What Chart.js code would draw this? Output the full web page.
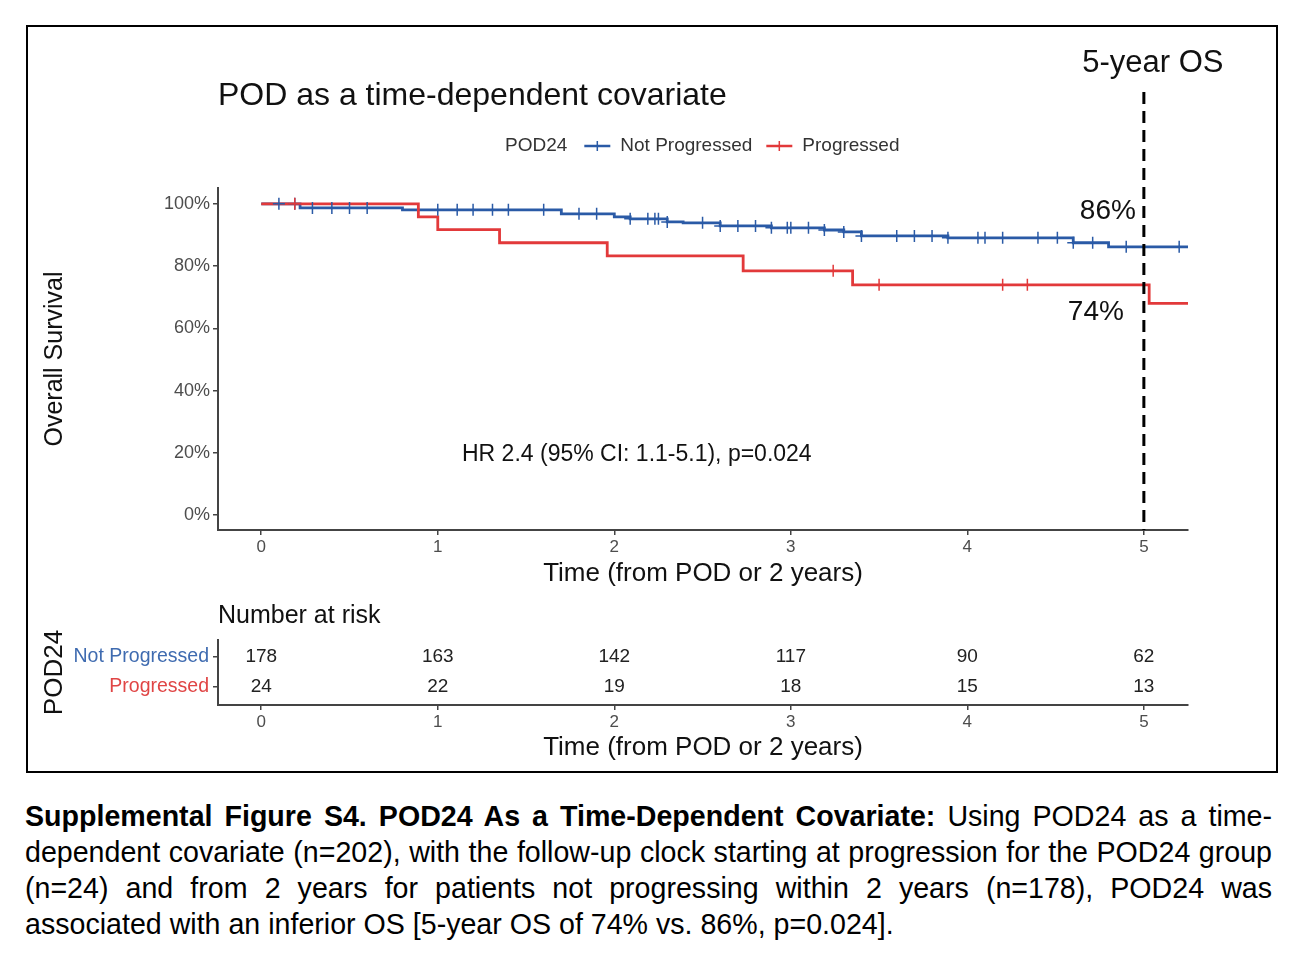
<!DOCTYPE html>
<html>
<head>
<meta charset="utf-8">
<script src="https://cdn.jsdelivr.net/npm/chart.js@4"></script>
<style>
  body { margin: 0; background: #fff; width: 1314px; height: 976px; position: relative; overflow: hidden; font-family: "Liberation Sans", Arial, sans-serif; }
  #frame { position: absolute; left: 26px; top: 25px; width: 1248px; height: 744px; border: 2px solid #000; }
  canvas { position: absolute; left: 0; }
  #km { top: 0; }
  #risk { top: 590px; }
  #caption { position: absolute; left: 25px; top: 798px; width: 1247px; font-size: 28.6px; line-height: 36px; color: #000; }
  #caption div { text-align: justify; text-align-last: justify; }
  #caption div.last { text-align-last: left; }
</style>
</head>
<body>
<div id="frame"></div>
<canvas id="km" width="1314" height="600"></canvas>
<canvas id="risk" width="1314" height="180"></canvas>
<div id="caption">
  <div><b>Supplemental Figure S4. POD24 As a Time-Dependent Covariate:</b> Using POD24 as a time-</div>
  <div>dependent covariate (n=202), with the follow-up clock starting at progression for the POD24 group</div>
  <div>(n=24) and from 2 years for patients not progressing within 2 years (n=178), POD24 was</div>
  <div class="last">associated with an inferior OS [5-year OS of 74% vs. 86%, p=0.024].</div>
</div>
<script>
// tick labels
const xTicks = [0, 1, 2, 3, 4, 5];
const yTicks = [0, 20, 40, 60, 80, 100];

// Not Progressed: event times (years) and survival (%) after each drop
const notProgTimes = [0, 0.22, 0.80, 1.70, 2.00, 2.09, 2.30, 2.39, 2.60, 2.89, 3.19, 3.30, 3.40, 3.89, 4.60, 4.80];
const notProgSurv = [100, 98.7, 98.1, 96.8, 95.8, 95.2, 94.2, 93.9, 92.9, 92.3, 91.6, 91.0, 89.7, 89.1, 87.5, 86.2];
const notProgCensor = [0.10, 0.19, 0.29, 0.40, 0.50, 0.60, 1.00, 1.11, 1.20, 1.31, 1.40, 1.60, 1.80, 1.90,
  2.09, 2.19, 2.23, 2.25, 2.30, 2.50, 2.60, 2.70, 2.80, 2.89, 2.98, 3.00, 3.10, 3.19, 3.30, 3.40,
  3.60, 3.70, 3.80, 3.89, 4.06, 4.10, 4.20, 4.40, 4.51, 4.60, 4.71, 4.90, 5.20];

// Progressed
const progTimes = [0, 0.89, 1.00, 1.35, 1.96, 2.73, 3.35, 5.03];
const progSurv = [100, 95.8, 91.7, 87.5, 83.3, 78.5, 74.0, 68.0];
const progCensor = [0.19, 3.24, 3.50, 4.20, 4.34];

const followUpEnd = 5.25;
const osYear = 5;
const osAt5 = [86, 74];

// number at risk
const riskRows = ["Not Progressed", "Progressed"];
const riskNotProg = [178, 163, 142, 117, 90, 62];
const riskProg = [24, 22, 19, 18, 15, 13];

const blue = "#2a5aa6";
const red = "#e2393a";
const blueText = "#3f6bb0";
const redText = "#e04545";
const fontFamily = '"Liberation Sans", Arial, sans-serif';
Chart.defaults.font.family = fontFamily;

function stepPoints(times, surv) {
  const pts = times.map((t, i) => ({ x: t, y: surv[i] }));
  pts.push({ x: followUpEnd, y: surv[surv.length - 1] });
  return pts;
}

// survival level of the step curve at time t
function survAt(times, surv, t) {
  let s = surv[0];
  for (let i = 0; i < times.length; i++) {
    if (times[i] <= t + 1e-9) s = surv[i];
  }
  return s;
}

function censorPoints(cens, times, surv) {
  return cens.map(t => ({ x: t, y: survAt(times, surv, t) }));
}

function drawCross(ctx, x, y, color) {
  ctx.strokeStyle = color;
  ctx.lineWidth = 2.5;
  ctx.beginPath();
  ctx.moveTo(x - 13, y);
  ctx.lineTo(x + 13, y);
  ctx.stroke();
  ctx.lineWidth = 1.5;
  ctx.beginPath();
  ctx.moveTo(x, y - 5);
  ctx.lineTo(x, y + 5);
  ctx.stroke();
}

// texts, legend and the 5-year marker
const kmDecor = {
  id: "kmDecor",
  afterDraw(chart) {
    const ctx = chart.ctx;
    const xs = chart.scales.x;
    const ys = chart.scales.y;
    const area = chart.chartArea;
    ctx.save();
    ctx.textBaseline = "middle";

    ctx.fillStyle = "#111";
    ctx.font = "32px " + fontFamily;
    ctx.textAlign = "left";
    ctx.fillText("POD as a time-dependent covariate", area.left, 96);

    // legend
    ctx.font = "19px " + fontFamily;
    ctx.fillStyle = "#333";
    let lx = 505;
    const ly = 146;
    ctx.fillText("POD24", lx, ly);
    lx += ctx.measureText("POD24").width + 18;
    [["Not Progressed", blue], ["Progressed", red]].forEach(([label, color]) => {
      drawCross(ctx, lx + 12, ly, color);
      lx += 35;
      ctx.fillStyle = "#333";
      ctx.fillText(label, lx, ly);
      lx += ctx.measureText(label).width + 15;
    });

    ctx.font = "23px " + fontFamily;
    ctx.fillStyle = "#111";
    ctx.fillText("HR 2.4 (95% CI: 1.1-5.1), p=0.024", area.left + 244, 455);

    // dashed line at 5 years
    const px = xs.getPixelForValue(osYear);
    ctx.strokeStyle = "#000";
    ctx.lineWidth = 3;
    ctx.setLineDash([12, 7]);
    ctx.beginPath();
    ctx.moveTo(px, area.top - 96);
    ctx.lineTo(px, area.bottom);
    ctx.stroke();
    ctx.setLineDash([]);

    ctx.font = "31px " + fontFamily;
    ctx.fillStyle = "#111";
    ctx.textAlign = "center";
    ctx.fillText("5-year OS", px + 9, 63);

    ctx.font = "28px " + fontFamily;
    ctx.textAlign = "right";
    ctx.fillText(osAt5[0] + "%", px - 8, ys.getPixelForValue(osAt5[0]) - 36);
    ctx.fillText(osAt5[1] + "%", px - 20, ys.getPixelForValue(osAt5[1]) + 28);
    ctx.restore();
  }
};

const axisGrey = "#444";
const tickGrey = "#4d4d4d";

const kmChart = new Chart(document.getElementById("km"), {
  type: "line",
  data: {
    datasets: [
      {
        type: "scatter",
        label: "Progressed censored",
        data: censorPoints(progCensor, progTimes, progSurv),
        pointStyle: "cross",
        pointRadius: 6,
        borderColor: red,
        borderWidth: 1.5,
      },
      {
        type: "scatter",
        label: "Not Progressed censored",
        data: censorPoints(notProgCensor, notProgTimes, notProgSurv),
        pointStyle: "cross",
        pointRadius: 6,
        borderColor: blue,
        borderWidth: 1.5,
      },
      {
        label: "Progressed",
        data: stepPoints(progTimes, progSurv),
        stepped: "before",
        borderColor: red,
        borderWidth: 2.8,
        pointRadius: 0,
        fill: false,
      },
      {
        label: "Not Progressed",
        data: stepPoints(notProgTimes, notProgSurv),
        stepped: "before",
        borderColor: blue,
        borderWidth: 2.8,
        pointRadius: 0,
        fill: false,
      },
    ],
  },
  options: {
    responsive: false,
    animation: false,
    layout: { padding: { top: 188, right: 126, left: 0, bottom: 0 } },
    plugins: {
      legend: { display: false },
      tooltip: { enabled: false },
    },
    scales: {
      x: {
        type: "linear",
        min: -0.245,
        max: 5.25,
        afterFit(scale) { scale.height = 70; },
        afterBuildTicks(scale) { scale.ticks = xTicks.map(v => ({ value: v })); },
        ticks: { color: tickGrey, font: { size: 17 }, padding: 2, callback: v => v },
        grid: { drawOnChartArea: false, tickLength: 5, color: axisGrey, lineWidth: 1.5 },
        border: { color: axisGrey, width: 2 },
        title: { display: true, text: "Time (from POD or 2 years)", color: "#111", font: { size: 26 }, padding: { top: 0, bottom: 11 } },
      },
      y: {
        min: -4.8,
        max: 105.1,
        afterFit(scale) { scale.width = 218; },
        afterBuildTicks(scale) { scale.ticks = yTicks.map(v => ({ value: v })); },
        ticks: { color: tickGrey, font: { size: 18 }, padding: 3, callback: v => v + "%" },
        grid: { drawOnChartArea: false, tickLength: 5, color: axisGrey, lineWidth: 1.5 },
        border: { color: axisGrey, width: 2 },
        title: { display: true, text: "Overall Survival", color: "#111", font: { size: 25 }, padding: { top: 40, bottom: 0 } },
      },
    },
  },
  plugins: [kmDecor],
});

// number-at-risk table
const riskDecor = {
  id: "riskDecor",
  afterDraw(chart) {
    const ctx = chart.ctx;
    const xs = chart.scales.x;
    const ys = chart.scales.y;
    ctx.save();
    ctx.textBaseline = "middle";
    ctx.fillStyle = "#111";
    ctx.font = "25px " + fontFamily;
    ctx.textAlign = "left";
    ctx.fillText("Number at risk", chart.chartArea.left, 26);
    ctx.font = "19px " + fontFamily;
    ctx.fillStyle = "#222";
    ctx.textAlign = "center";
    xTicks.forEach((t, i) => {
      ctx.fillText(riskNotProg[i], xs.getPixelForValue(t), ys.getPixelForValue(1));
      ctx.fillText(riskProg[i], xs.getPixelForValue(t), ys.getPixelForValue(0));
    });
    ctx.restore();
  }
};

const riskChart = new Chart(document.getElementById("risk"), {
  type: "scatter",
  data: { datasets: [] },
  options: {
    responsive: false,
    animation: false,
    layout: { padding: { top: 50, right: 126, left: 0, bottom: 0 } },
    plugins: {
      legend: { display: false },
      tooltip: { enabled: false },
    },
    scales: {
      x: {
        type: "linear",
        min: -0.245,
        max: 5.25,
        afterFit(scale) { scale.height = 65; },
        afterBuildTicks(scale) { scale.ticks = xTicks.map(v => ({ value: v })); },
        ticks: { color: tickGrey, font: { size: 17 }, padding: 2, callback: v => v },
        grid: { drawOnChartArea: false, tickLength: 5, color: axisGrey, lineWidth: 1.5 },
        border: { color: axisGrey, width: 2 },
        title: { display: true, text: "Time (from POD or 2 years)", color: "#111", font: { size: 26 }, padding: { top: 0, bottom: 7 } },
      },
      y: {
        type: "linear",
        min: -0.6,
        max: 1.567,
        afterFit(scale) { scale.width = 218; },
        afterBuildTicks(scale) { scale.ticks = [0, 1].map(v => ({ value: v })); },
        ticks: {
          font: { size: 19.5 },
          padding: 4,
          color: ctx => (ctx.tick && ctx.tick.value === 1 ? blueText : redText),
          callback: v => (v === 1 ? riskRows[0] : riskRows[1]),
        },
        grid: { drawOnChartArea: false, tickLength: 5, color: axisGrey, lineWidth: 1.5 },
        border: { color: axisGrey, width: 2 },
        title: { display: true, text: "POD24", color: "#111", font: { size: 26 }, padding: { top: 39, bottom: 0 } },
      },
    },
  },
  plugins: [riskDecor],
});
</script>
</body>
</html>
